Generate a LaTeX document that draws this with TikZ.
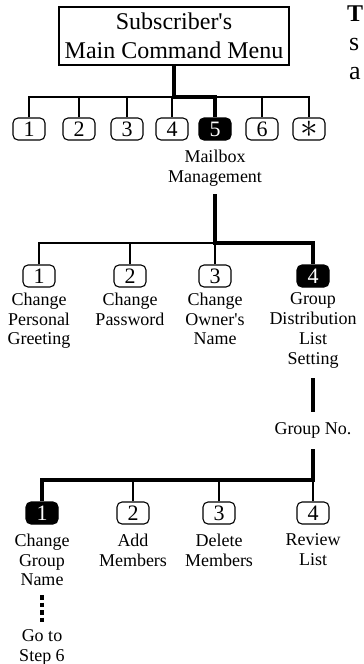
\documentclass[tikz,border=0pt]{standalone}
\usepackage{fontspec}
\setmainfont{Liberation Serif}
\usetikzlibrary{positioning}

\tikzset{
  keybox/.style={draw, line width=1.1pt, rounded corners=5pt, minimum width=32pt,
    minimum height=22pt, inner sep=0pt, font=\fontsize{22}{22}\selectfont},
  keyon/.style={keybox, fill=black, text=white},
  lbl/.style={align=center, inner sep=0pt, font=\fontsize{18}{19.8}\selectfont},
  bus/.style={line width=1.1pt},
  hot/.style={line width=4.5pt},
}

\begin{document}
\begin{tikzpicture}[x=1pt, y=-1pt]
    \useasboundingbox (0,0) rectangle (364,664);

    % Main menu
    \node[draw, line width=1.1pt, minimum width=230pt, minimum height=58pt, align=center,
      font=\fontsize{24}{29}\selectfont] (menu) at (174,36) {Subscriber\textquotesingle s\\Main Command Menu};
    \foreach \n/\x in {1/29, 2/79, 3/127, 4/172, 6/262}
        \node[keybox] (m\n) at (\x,129) {\n};
    \node[keyon] (m5) at (215,129) {5};
    \node[keybox] (m7) at (309,129) {\scalebox{1.7}{$\ast$}};
    \coordinate (bus1) at (0,97);
    \draw[bus] (m1.north) |- (bus1 -| m7) -- (m7.north);
    \foreach \n in {2,3,4,6}
        \draw[bus] (m\n.north) -- (m\n.north |- bus1);
    \draw[hot] (menu.south) |- (bus1 -| m5) -- (m5.north);
    \node[lbl, below=9pt of m5] (mbox) {Mailbox\\Management};

    % Mailbox management
    \foreach \n/\x in {1/39, 2/130, 3/215}
        \node[keybox] (b\n) at (\x,276) {\n};
    \node[keyon] (b4) at (313,276) {4};
    \coordinate (bus2) at (0,243);
    \draw[bus] (b1.north) |- (bus2 -| b3) -- (b3.north);
    \draw[bus] (b2.north) -- (b2.north |- bus2);
    \draw[hot] ([yshift=-8pt]mbox.south) -- (mbox.south |- bus2) -| (b4.north);
    \node[lbl, below=5pt of b1] (greet) {Change\\Personal\\Greeting};
    \node[lbl, below=5pt of b2] (pass) {Change\\Password};
    \node[lbl, below=5pt of b3] (owner) {Change\\Owner\textquotesingle s\\Name};
    \node[lbl, below=5pt of b4] (grp) {Group\\Distribution\\List\\Setting};
    \node[lbl, below=54pt of grp] (gno) {Group No.};
    \draw[hot] ([yshift=-10pt]grp.south) -- ([yshift=10pt]gno.north);

    % Group list setting
    \node[keyon] (c1) at (42,513) {1};
    \foreach \n/\x in {2/133, 3/219, 4/313}
        \node[keybox] (c\n) at (\x,513) {\n};
    \coordinate (bus3) at (0,480);
    \draw[hot] ([yshift=-11pt]gno.south) |- (bus3 -| c1) -- (c1.north);
    \foreach \n in {2,3,4}
        \draw[bus] (c\n.north) -- (c\n.north |- bus3);
    \node[lbl, below=9pt of c1] (cgn) {Change\\Group\\Name};
    \node[lbl, below=9pt of c2] {Add\\Members};
    \node[lbl, below=9pt of c3] {Delete\\Members};
    \node[lbl, below=9pt of c4] {Review\\List};
    \node[lbl, below=43pt of cgn] (step) {Go to\\Step 6};
    \draw[hot, dash pattern=on 4.5pt off 3pt] ([yshift=-9pt]cgn.south) -- ([yshift=5pt]step.north);

    % next column, cut off
    \node[anchor=base west, inner sep=0pt, font=\fontsize{24}{24}\selectfont\bfseries] (ct) at (347,21) {T};
    \node[anchor=base west, inner sep=0pt, font=\fontsize{26}{26}\selectfont] (cs) at (349,50) {s};
    \node[anchor=base west, inner sep=0pt, font=\fontsize{26}{26}\selectfont] (ca) at (349,79) {a};
\end{tikzpicture}
\end{document}
